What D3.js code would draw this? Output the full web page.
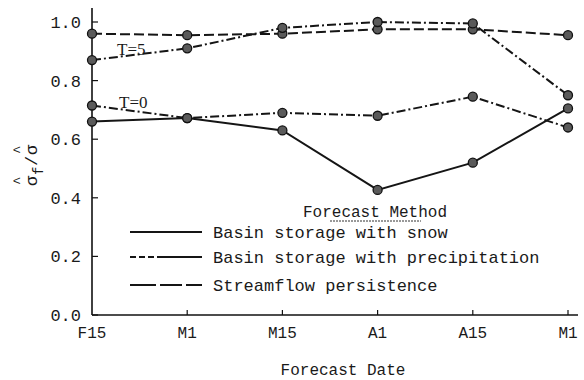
<!DOCTYPE html>
<html>
<head>
<meta charset="utf-8">
<script src="https://cdn.jsdelivr.net/npm/d3@7"></script>
<style>
  body { margin: 0; background: #fff; }
  text { fill: #1a1a1a; }
</style>
</head>
<body>
<div id="chart"></div>
<script>
// forecast dates along the x axis
const dates = ["F15", "M1", "M15", "A1", "A15", "M1 "];
const yTicks = [0.0, 0.2, 0.4, 0.6, 0.8, 1.0];

// ratio of forecast error std to streamflow std
const persistT5 = [0.96, 0.955, 0.96, 0.975, 0.975, 0.955];
const precipT5 = [0.87, 0.91, 0.98, 1.0, 0.995, 0.75];
const precipT0 = [0.715, 0.672, 0.69, 0.68, 0.745, 0.64];
const snowT0 = [0.66, 0.672, 0.63, 0.427, 0.52, 0.705];

const legendNames = ["Basin storage with snow", "Basin storage with precipitation", "Streamflow persistence"];

const W = 584, H = 380;
const svg = d3.select("#chart").append("svg")
    .attr("width", W)
    .attr("height", H);

const x = d3.scalePoint().domain(dates).range([92, 568]);
const y = d3.scaleLinear().domain([0, 1]).range([315, 22]);

const mono = "'Liberation Mono', 'DejaVu Sans Mono', monospace";
const serif = "'Liberation Serif', 'DejaVu Serif', serif";

// axes
svg.append("line")
    .attr("x1", 92).attr("x2", 92)
    .attr("y1", 8).attr("y2", y(0))
    .attr("stroke", "#111").attr("stroke-width", 1.6);
svg.append("line")
    .attr("x1", 92).attr("x2", 578)
    .attr("y1", y(0)).attr("y2", y(0))
    .attr("stroke", "#111").attr("stroke-width", 1.6);

// y ticks (inward)
svg.selectAll(".ytick")
    .data(yTicks)
    .enter()
    .append("line")
    .attr("x1", 92).attr("x2", 98)
    .attr("y1", d => y(d)).attr("y2", d => y(d))
    .attr("stroke", "#111").attr("stroke-width", 1.2);

svg.selectAll(".ylab")
    .data(yTicks)
    .enter()
    .append("text")
    .attr("x", 81)
    .attr("y", d => y(d))
    .attr("dy", "0.35em")
    .attr("text-anchor", "end")
    .attr("font-family", mono)
    .attr("font-size", 17)
    .text(d => d.toFixed(1));

// x ticks (inward)
svg.selectAll(".xtick")
    .data(dates.slice(1))
    .enter()
    .append("line")
    .attr("x1", d => x(d)).attr("x2", d => x(d))
    .attr("y1", y(0)).attr("y2", y(0) - 5)
    .attr("stroke", "#111").attr("stroke-width", 1.2);

svg.selectAll(".xlab")
    .data(dates)
    .enter()
    .append("text")
    .attr("x", d => x(d))
    .attr("y", 338)
    .attr("text-anchor", "middle")
    .attr("font-family", mono)
    .attr("font-size", 16)
    .text(d => d.trim());

svg.append("text")
    .attr("x", 343)
    .attr("y", 375)
    .attr("text-anchor", "middle")
    .attr("font-family", mono)
    .attr("font-size", 16)
    .text("Forecast Date");

// y axis label: sigma-hat_f / sigma-hat, rotated
const yl = svg.append("g")
    .attr("transform", "translate(37,186) rotate(-90)")
    .attr("font-family", mono)
    .attr("font-size", 17);
yl.append("text").attr("x", 0).attr("y", 0).text("σ");
yl.append("text").attr("x", 1).attr("y", -14).attr("font-size", 14).text("^");
yl.append("text").attr("x", 11).attr("y", 6).attr("font-size", 14).text("f");
yl.append("text").attr("x", 20).attr("y", 0).text("/");
yl.append("text").attr("x", 31).attr("y", 0).text("σ");
yl.append("text").attr("x", 32).attr("y", -14).attr("font-size", 14).text("^");

// series lines
const series = [
    { values: persistT5, dash: "10,4" },
    { values: precipT5, dash: "9,3,2,3" },
    { values: precipT0, dash: "9,3,2,3" },
    { values: snowT0, dash: null }
];

const line = d3.line()
    .x((d, i) => x(dates[i]))
    .y(d => y(d));

series.forEach(s => {
    svg.append("path")
        .datum(s.values)
        .attr("d", line)
        .attr("fill", "none")
        .attr("stroke", "#151515")
        .attr("stroke-width", 2)
        .attr("stroke-dasharray", s.dash);
});

series.forEach(s => {
    svg.selectAll(null)
        .data(s.values)
        .enter()
        .append("circle")
        .attr("cx", (d, i) => x(dates[i]))
        .attr("cy", d => y(d))
        .attr("r", 4.5)
        .attr("fill", "#5a5a5a")
        .attr("stroke", "#111")
        .attr("stroke-width", 1.3);
});

// T labels
svg.append("text")
    .attr("x", 117).attr("y", 55)
    .attr("font-family", serif)
    .attr("font-size", 17)
    .text("T=5");
svg.append("text")
    .attr("x", 119).attr("y", 108)
    .attr("font-family", serif)
    .attr("font-size", 17)
    .text("T=0");

// legend
svg.append("text")
    .attr("x", 375).attr("y", 217)
    .attr("text-anchor", "middle")
    .attr("font-family", mono)
    .attr("font-size", 16)
    .text("Forecast Method");
svg.append("line")
    .attr("x1", 330).attr("x2", 421)
    .attr("y1", 221).attr("y2", 221)
    .attr("stroke", "#333").attr("stroke-width", 1)
    .attr("stroke-dasharray", "2,1");

const legendDash = [null, "6,3,6,3,6,3,60,0", "26,4,22,4,16,100"];
const legendY = [232, 257, 285];

legendNames.forEach((name, i) => {
    svg.append("line")
        .attr("x1", 130).attr("x2", 202)
        .attr("y1", legendY[i]).attr("y2", legendY[i])
        .attr("stroke", "#151515")
        .attr("stroke-width", 2)
        .attr("stroke-dasharray", legendDash[i]);
    svg.append("text")
        .attr("x", 213).attr("y", legendY[i])
        .attr("dy", "0.35em")
        .attr("font-family", mono)
        .attr("font-size", 17)
        .text(name);
});
</script>
</body>
</html>
